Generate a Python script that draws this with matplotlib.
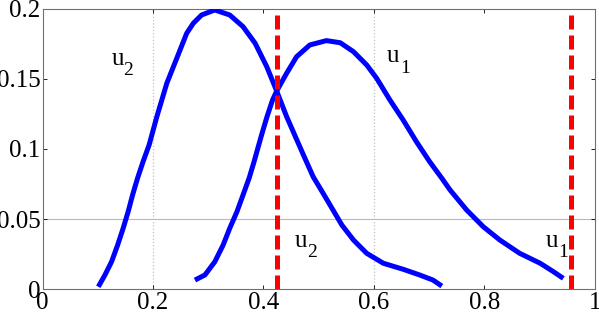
import numpy as np
import matplotlib
matplotlib.use("Agg")
import matplotlib.pyplot as plt

# Curve u2 (left curve)
u2_x = [0.101, 0.113, 0.125, 0.136, 0.146, 0.155, 0.163, 0.172, 0.182, 0.193,
        0.207, 0.216, 0.225, 0.237, 0.249, 0.261, 0.273, 0.288, 0.312, 0.339,
        0.363, 0.385, 0.406, 0.424, 0.442, 0.471, 0.490, 0.508, 0.526, 0.542,
        0.563, 0.587, 0.617, 0.653, 0.683, 0.707, 0.723]
u2_y = [0.0016, 0.0100, 0.0195, 0.0314, 0.0434, 0.0552, 0.0671, 0.0791, 0.0909, 0.1029,
        0.1231, 0.1350, 0.1469, 0.1588, 0.1707, 0.1826, 0.1898, 0.1957, 0.1993, 0.1957,
        0.1874, 0.1755, 0.1588, 0.1414, 0.1231, 0.0970, 0.0802, 0.0684, 0.0564, 0.0457,
        0.0350, 0.0255, 0.0184, 0.0141, 0.0100, 0.0064, 0.0021]

# Curve u1 (right curve)
u1_x = [0.276, 0.294, 0.312, 0.327, 0.339, 0.352, 0.363, 0.374, 0.383, 0.3915,
        0.3975, 0.4065, 0.4165, 0.424, 0.442, 0.460, 0.484, 0.514, 0.539, 0.563,
        0.587, 0.605, 0.629, 0.653, 0.677, 0.701, 0.723, 0.738, 0.768, 0.798,
        0.828, 0.864, 0.901, 0.925, 0.943]
u1_y = [0.0064, 0.0100, 0.0195, 0.0314, 0.0434, 0.0552, 0.0671, 0.0791, 0.0909, 0.1029,
        0.1112, 0.1231, 0.1350, 0.1414, 0.1541, 0.1659, 0.1743, 0.1774, 0.1759, 0.1695,
        0.1600, 0.1505, 0.1350, 0.1207, 0.1052, 0.0909, 0.0791, 0.0707, 0.0564, 0.0445,
        0.0350, 0.0255, 0.0184, 0.0124, 0.0076]

# Vertical thresholds
thresholds = [0.424, 0.957]

xticks = [0, 0.2, 0.4, 0.6, 0.8, 1]
xtick_labels = ["0", "0.2", "0.4", "0.6", "0.8", "1"]
yticks = [0, 0.05, 0.1, 0.15, 0.2]
ytick_labels = ["0", "0.05", "0.1", "0.15", "0.2"]

# (base, subscript, base x, base y, sub x, sub y)
labels = [("u", "2", 0.126, 0.160, 0.146, 0.1529),
          ("u", "1", 0.624, 0.162, 0.648, 0.1543),
          ("u", "2", 0.456, 0.030, 0.480, 0.0229),
          ("u", "1", 0.912, 0.030, 0.934, 0.0229)]

plt.rcParams['font.family'] = ['Liberation Serif', 'DejaVu Serif']

fig = plt.figure(figsize=(5.99, 3.15), dpi=100)
ax = fig.add_axes([0.071, 0.0825, 0.922, 0.889])

# visible grid lines
for gx in (xticks[1], xticks[3]):
    ax.axvline(gx, color='#c0c0c0', linestyle=':', linewidth=0.9, zorder=1)
ax.axhline(yticks[1], color='#b8b8b8', linestyle='-', linewidth=0.8, zorder=1)

ax.plot(u2_x, u2_y, color='#0000ff', linewidth=3.6, solid_capstyle='butt',
        solid_joinstyle='round', zorder=3)
ax.plot(u1_x, u1_y, color='#0000ff', linewidth=3.6, solid_capstyle='butt',
        solid_joinstyle='round', zorder=3)
for t in thresholds:
    ax.axvline(t, color='#ff0000', linewidth=3.6, linestyle=(0, (2.8, 1.2)), zorder=4)

for base, sub, bx, by, sx, sy in labels:
    ax.text(bx, by, base, fontsize=18, ha='left', va='baseline')
    ax.text(sx, sy, sub, fontsize=14, ha='left', va='baseline')

ax.set_xlim(0, 1)
ax.set_ylim(0, 0.2)
ax.set_xticks(xticks)
ax.set_xticklabels(xtick_labels)
ax.set_yticks(yticks)
ax.set_yticklabels(ytick_labels)
ax.tick_params(direction='in', length=3, width=0.6, top=True, right=True,
               labelsize=18, colors='black')
ax.tick_params(axis='x', pad=2.5)
ax.tick_params(axis='y', pad=1.5)
for s in ax.spines.values():
    s.set_color('#707070')
    s.set_linewidth(0.8)

fig.savefig("out.png", dpi=100)
